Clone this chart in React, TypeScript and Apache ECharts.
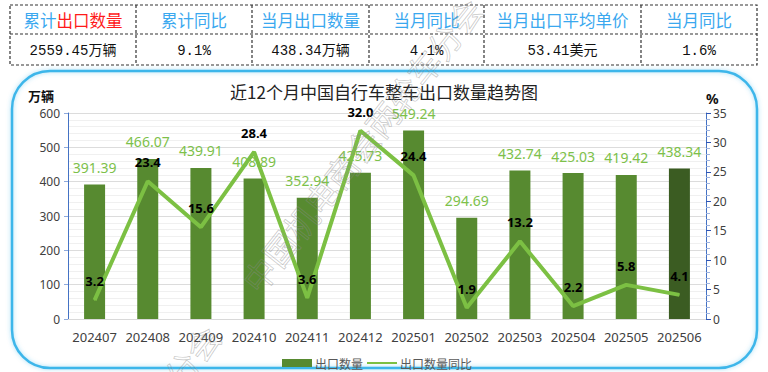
import React, { useEffect, useRef } from "react";
import * as echarts from "echarts";

const months = ["202407", "202408", "202409", "202410", "202411", "202412", "202501", "202502", "202503", "202504", "202505", "202506"];
const exportQty = [391.39, 466.07, 439.91, 408.89, 352.94, 425.73, 549.24, 294.69, 432.74, 425.03, 419.42, 438.34];
const exportYoY = [3.2, 23.4, 15.6, 28.4, 3.6, 32.0, 24.4, 1.9, 13.2, 2.2, 5.8, 4.1];
const seriesNames = ["出口数量", "出口数量同比"];
const tableHeaders = ["累计出口数量", "累计同比", "当月出口数量", "当月同比", "当月出口平均单价", "当月同比"];
const tableValues = ["2559.45万辆", "9.1%", "438.34万辆", "4.1%", "53.41美元", "1.6%"];
const chartTitle = "近12个月中国自行车整车出口数量趋势图";
const leftUnit = "万辆";
const rightUnit = "%";
const watermark = "中国机电商会两轮车分会";

const colEdges = [10, 136, 252, 369, 484, 641, 757];

export default function App() {
  const ref = useRef<HTMLDivElement>(null);
  useEffect(() => {
    if (!ref.current) return;
    const chart = echarts.init(ref.current, null, { renderer: "svg" });
    const dash = [3, 2];
    const tableGraphics: any[] = [];
    tableGraphics.push({
      type: "rect",
      shape: { x: 10, y: 5, width: 747, height: 60 },
      style: { fill: "none", stroke: "#333", lineWidth: 1.2, lineDash: dash },
      z: 10,
    });
    tableGraphics.push({
      type: "line",
      shape: { x1: 10, y1: 34, x2: 757, y2: 34 },
      style: { stroke: "#333", lineWidth: 1.2, lineDash: dash },
      z: 10,
    });
    for (let i = 1; i < colEdges.length - 1; i++) {
      tableGraphics.push({
        type: "line",
        shape: { x1: colEdges[i], y1: 5, x2: colEdges[i], y2: 65 },
        style: { stroke: "#333", lineWidth: 1.2, lineDash: dash },
        z: 10,
      });
    }
    tableHeaders.forEach((h, i) => {
      const cx = (colEdges[i] + colEdges[i + 1]) / 2;
      const isFirst = i === 0;
      tableGraphics.push({
        type: "text",
        x: cx,
        y: 20,
        style: {
          text: isFirst ? "{b|" + h.slice(0, 2) + "}{r|" + h.slice(2) + "}" : h,
          fill: "#3aa8ef",
          font: '16.5px "Noto Sans CJK SC"',
          align: "center",
          verticalAlign: "middle",
          rich: isFirst
            ? {
                b: { fill: "#3aa8ef", fontSize: 16.5, fontFamily: "Noto Sans CJK SC" },
                r: { fill: "#ff1a1a", fontSize: 16.5, fontFamily: "Noto Sans CJK SC" },
              }
            : undefined,
        },
        z: 10,
      });
      tableGraphics.push({
        type: "text",
        x: cx,
        y: 51,
        style: {
          text: tableValues[i],
          fill: "#111",
          font: '14px "Liberation Mono", "Noto Sans CJK SC"',
          align: "center",
          verticalAlign: "middle",
        },
        z: 10,
      });
    });

    const rot = (51.6 * Math.PI) / 180;
    const wmStyle = {
      text: watermark,
      fill: "rgba(255,255,255,0)",
      stroke: "rgba(140,140,140,0.5)",
      lineWidth: 0.7,
      font: '33px "Noto Sans CJK SC"',
      verticalAlign: "middle",
    };
    const lineIcon =
      "path://M0,0L0.01,0L0.01,0.01L0,0.01Z M0,3L30,3L30,5L0,5Z M29.99,7.99L30,7.99L30,8L29.99,8Z";
    const option: any = {
      animation: false,
      backgroundColor: "#ffffff",
      grid: { left: 68, right: 62, top: 113, bottom: 53, containLabel: false },
      legend: {
        data: [{ name: seriesNames[0], icon: "rect" }, { name: seriesNames[1], icon: lineIcon }],
        left: 277,
        top: 352,
        itemWidth: 30,
        itemHeight: 8,
        itemGap: 4,
        textStyle: { color: "#595959", fontSize: 12, fontFamily: "Noto Sans CJK SC", padding: [0, 0, 0, -2] },
      },
      xAxis: {
        type: "category",
        data: months,
        axisLine: { lineStyle: { color: "#d9d9d9", width: 1 } },
        axisTick: { show: false },
        axisLabel: { color: "#404040", fontSize: 13, margin: 11, fontFamily: "Noto Sans", interval: 0 },
      },
      yAxis: [
        {
          type: "value",
          min: 0,
          max: 600,
          interval: 100,
          axisLine: { show: true, lineStyle: { color: "#4472c4", width: 1 } },
          axisTick: { show: true, length: 4, lineStyle: { color: "#8faadc" } },
          axisLabel: { color: "#404040", fontSize: 12, margin: 8, fontFamily: "Noto Sans" },
          splitLine: { show: true, lineStyle: { color: "#dcdcdc", width: 1 } },
          minorTick: { show: false, splitNumber: 5 },
          minorSplitLine: { show: true, lineStyle: { color: "#f0f0f0", width: 1 } },
        },
        {
          type: "value",
          min: 0,
          max: 35,
          interval: 5,
          axisLine: { show: true, lineStyle: { color: "#4472c4", width: 1 } },
          axisTick: { show: true, length: 5, lineStyle: { color: "#2f55b4", width: 1 } },
          minorTick: { show: true, splitNumber: 5, length: 4, lineStyle: { color: "#9db3e0" } },
          axisLabel: { color: "#404040", fontSize: 12, margin: 7, fontFamily: "Noto Sans" },
          splitLine: { show: false },
        },
      ],
      series: [
        {
          name: seriesNames[0],
          type: "bar",
          barWidth: 21,
          itemStyle: { color: "#578a30" },
          data: exportQty.map((v, i) =>
            i === exportQty.length - 1 ? { value: v, itemStyle: { color: "#3b5c22" } } : v
          ),
          label: {
            show: true,
            position: "top",
            distance: 10,
            color: "#7dc14a",
            fontSize: 14,
            fontFamily: "Noto Sans",
            formatter: (p: any) => Number(p.value).toFixed(2),
          },
          z: 2,
        },
        {
          name: seriesNames[1],
          type: "line",
          yAxisIndex: 1,
          data: exportYoY,
          symbol: "circle",
          symbolSize: 1,
          showSymbol: true,
          itemStyle: { color: "#7cc043" },
          lineStyle: { color: "#7cc043", width: 4 },
          label: {
            show: true,
            position: "top",
            distance: 12,
            color: "#000",
            fontSize: 13,
            fontWeight: "bold",
            fontFamily: "Noto Sans",
            formatter: (p: any) => Number(p.value).toFixed(1),
          },
          z: 3,
        },
      ],
      graphic: [
        {
          type: "rect",
          shape: { x: 12, y: 71, width: 745, height: 297, r: 38 },
          style: { fill: "none", stroke: "#3db6ea", lineWidth: 2.5, shadowBlur: 4, shadowColor: "rgba(61,182,234,0.5)" },
          z: 0,
          silent: true,
        },
        {
          type: "text",
          x: 384,
          y: 91,
          style: {
            text: chartTitle,
            fill: "#222",
            font: '17px "Noto Sans CJK SC"',
            align: "center",
            verticalAlign: "middle",
          },
        },
        {
          type: "text",
          x: 28,
          y: 95,
          style: { text: leftUnit, fill: "#111", font: 'bold 13px "Noto Sans CJK SC"', verticalAlign: "middle" },
        },
        {
          type: "text",
          x: 706,
          y: 98,
          style: { text: rightUnit, fill: "#111", font: 'bold 14px "Noto Sans"', verticalAlign: "middle" },
        },
        {
          type: "text",
          x: 249,
          y: 287,
          rotation: rot,
          style: { ...wmStyle, align: "left" },
          z: 100,
          silent: true,
        },
        {
          type: "text",
          x: 212,
          y: 330,
          rotation: rot,
          style: { ...wmStyle, align: "right" },
          z: 100,
          silent: true,
        },
        ...tableGraphics,
      ],
    };
    chart.setOption(option);
    return () => chart.dispose();
  }, []);
  return (
    <div
      ref={ref}
      style={{ position: "fixed", left: 0, top: 0, width: 768, height: 372, background: "#fff" }}
    />
  );
}
